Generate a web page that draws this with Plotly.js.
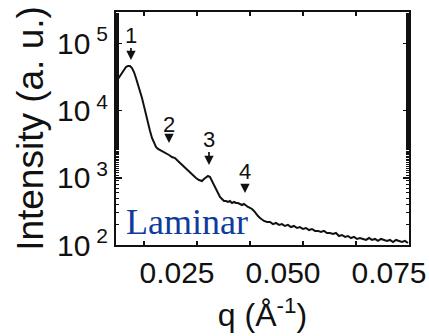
<!DOCTYPE html>
<html>
<head>
<meta charset="utf-8">
<script src="https://cdn.plot.ly/plotly-3.0.1.min.js"></script>
<style>html,body{margin:0;padding:0;background:#fff;}#chart{width:429px;height:336px;}</style>
</head>
<body>
<div id="chart"></div>
<script>
// scattering vector q (1/Å)
const q = [0.00590,0.00637,0.00684,0.00731,0.00778,0.00825,0.00873,0.00920,0.00967,0.01014,
0.01061,0.01108,0.01156,0.01203,0.01250,0.01297,0.01344,0.01392,0.01439,0.01486,
0.01533,0.01580,0.01627,0.01698,0.01769,0.01840,0.01910,0.01981,0.02052,0.02123,
0.02193,0.02264,0.02335,0.02406,0.02476,0.02547,0.02618,0.02665,0.02712,0.02759,
0.02807,0.02854,0.02901,0.02948,0.02995,0.03042,0.03090,0.03137,0.03184,0.03231,
0.03278,0.03325,0.03373,0.03420,0.03467,0.03514,0.03561,0.03608,0.03656,0.03703,
0.03750,0.03797,0.03844,0.03892,0.03939,0.03986,0.04033,0.04080,0.04151,0.04222,
0.04292,0.04363,0.04434,0.04505,0.04575,0.04646,0.04717,0.04788,0.04858,0.04929,
0.05000,0.05071,0.05142,0.05212,0.05283,0.05354,0.05425,0.05495,0.05566,0.05637,
0.05708,0.05778,0.05849,0.05920,0.05991,0.06061,0.06132,0.06203,0.06274,0.06344,
0.06415,0.06486,0.06557,0.06627,0.06698,0.06769,0.06840,0.06910,0.06981,0.07052,
0.07123,0.07193,0.07264,0.07335,0.07406,0.07476];
// intensity (a. u.)
const intensity = [26700,29700,32900,37700,41800,44800,46300,46300,43300,37700,
30700,25000,20300,15500,11700,8630,6560,4990,3920,3300,
2880,2690,2600,2430,2340,2190,2040,1975,1780,1610,
1450,1310,1180,1066,995,929,898,961,1030,1066,
1030,898,783,659,575,519,484,452,452,437,
452,422,437,422,422,408,394,408,381,368,
356,344,321,289,270,252,236,228,220,220,
205,213,199,205,192,199,185,192,179,185,
173,179,167,173,162,162,156,162,151,151,
146,151,136,141,132,136,127,132,123,127,
123,119,127,119,123,115,123,119,115,119,
111,119,115,111,115,107];
// peak markers: label, arrow-tip q, arrow-tip intensity
const peakLabels = ["1","2","3","4"];
const peakQ = [0.00943,0.01840,0.02783,0.03632];
const peakI = [56900,3300,1550,594];
const xTickVals = [0.025,0.05,0.075];
const xTickText = ["0.025","0.050","0.075"];
const yTickVals = [100,1000,10000,100000];
const yTickText = ["10<sup> 2</sup>","10<sup> 3</sup>","10<sup> 4</sup>","10<sup> 5</sup>"];
const sampleLabel = "Laminar";

const font = "Liberation Sans, Arial, sans-serif";
const arrowOffset = [-25,-19,-26,-22];
const annotations = peakLabels.map((t,i)=>({
  x:peakQ[i], y:Math.log10(peakI[i]), xref:'x', yref:'y', text:t,
  showarrow:true, ax:0, ay:arrowOffset[i], arrowhead:2, arrowsize:1.1, arrowwidth:1.7,
  arrowcolor:'#111', standoff:0, borderpad:0,
  font:{family:font, size:22, color:'#111'}}));
annotations.push({x:0.02264, y:Math.log10(220), xref:'x', yref:'y', text:sampleLabel,
  showarrow:false, xanchor:'center', yanchor:'middle',
  font:{family:'Liberation Serif, Times New Roman, serif', size:36, color:'#0f3a9e'}});

const trace = {x:q, y:intensity, type:'scatter', mode:'lines',
  line:{color:'#111', width:2}, hoverinfo:'skip'};

const layout = {
  width:429, height:336,
  margin:{l:116, r:20, t:12, b:91},
  paper_bgcolor:'#fff', plot_bgcolor:'#fff',
  showlegend:false,
  xaxis:{range:[0.0059,0.075], tickvals:xTickVals, ticktext:xTickText,
    ticks:'inside', ticklen:4, tickwidth:1.5, tickcolor:'#111',
    minor:{dtick:0.0125, tick0:0, ticks:'inside', ticklen:4, tickwidth:1.5, tickcolor:'#111'},
    showline:true, linecolor:'#111', linewidth:2, mirror:'ticks', showgrid:false, zeroline:false,
    ticklabelshift:-20,
    tickfont:{family:font, size:30, color:'#111'},
    title:{text:'q (Å<sup>-1</sup>)', font:{family:font, size:32, color:'#111'}, standoff:16}},
  yaxis:{type:'log', range:[2,5.47], tickvals:yTickVals, ticktext:yTickText,
    ticks:'inside', ticklen:6, tickwidth:1.5, tickcolor:'#111',
    minor:{ticks:'inside', ticklen:3, tickwidth:1, tickcolor:'#111'},
    showline:true, linecolor:'#111', linewidth:2, mirror:'ticks', showgrid:false, zeroline:false,
    tickfont:{family:font, size:30, color:'#111'},
    title:{text:'Intensity (a. u.)', font:{family:font, size:37, color:'#111'}, standoff:2}},
  annotations:annotations
};
Plotly.newPlot('chart',[trace],layout,{staticPlot:true, displayModeBar:false});
</script>
</body>
</html>
